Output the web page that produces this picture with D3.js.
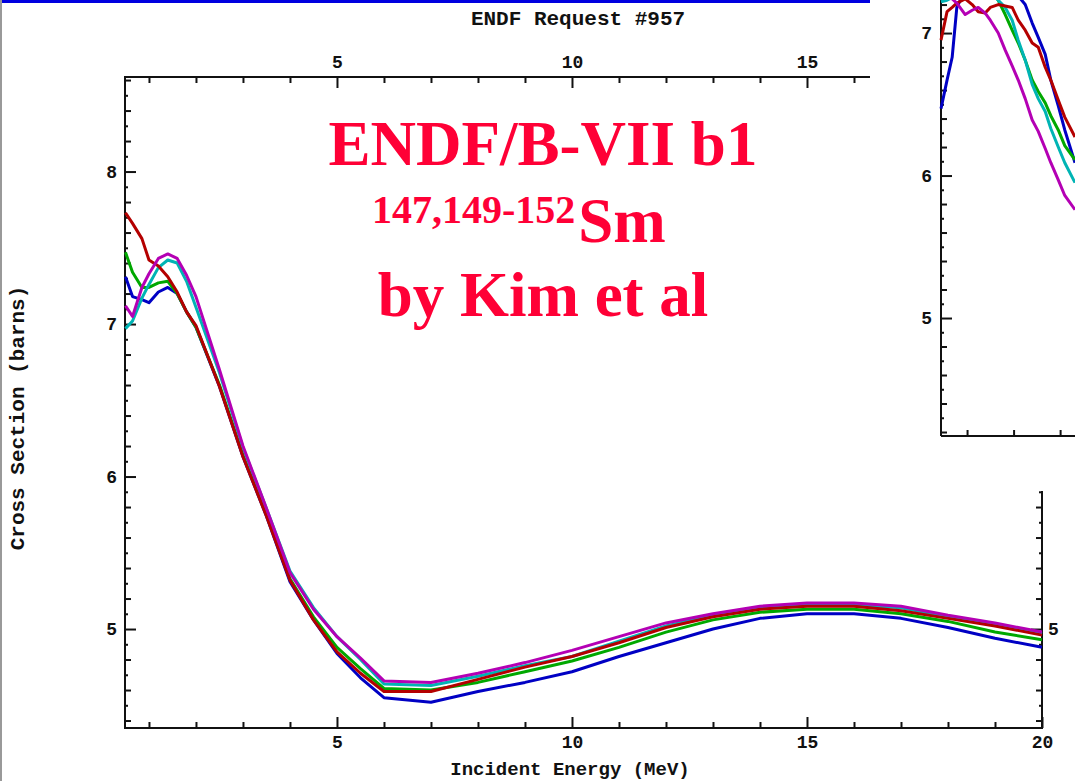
<!DOCTYPE html>
<html><head><meta charset="utf-8">
<script src="https://cdn.jsdelivr.net/npm/d3@7"></script>
<style>html,body{margin:0;padding:0;background:#fff;overflow:hidden}</style>
</head><body><svg id="c" width="1075" height="781"></svg>
<script>
// ---------- main chart data (MeV, barns) ----------
const energies = [0.5,0.65,0.85,1.0,1.2,1.4,1.6,1.8,2.0,2.5,3.0,3.5,4.0,4.5,5.0,5.5,6.0,7,8,9,10,11,12,13,14,15,16,17,18,19,20];
const sm147 = [7.31,7.18,7.16,7.14,7.21,7.24,7.20,7.08,6.98,6.59,6.13,5.74,5.31,5.06,4.84,4.68,4.55,4.52,4.59,4.65,4.72,4.82,4.91,5.00,5.07,5.10,5.10,5.07,5.01,4.94,4.88]; // blue
const sm149 = [7.47,7.34,7.24,7.24,7.27,7.28,7.20,7.08,6.98,6.60,6.14,5.75,5.33,5.08,4.88,4.74,4.61,4.60,4.65,4.72,4.79,4.88,4.98,5.06,5.11,5.13,5.13,5.10,5.05,4.98,4.93]; // green
const sm150 = [6.97,7.02,7.17,7.26,7.37,7.42,7.40,7.28,7.11,6.68,6.19,5.79,5.38,5.14,4.95,4.80,4.64,4.63,4.69,4.76,4.82,4.92,5.02,5.09,5.14,5.16,5.16,5.14,5.08,5.03,4.97]; // cyan
const sm151 = [7.73,7.66,7.56,7.42,7.38,7.31,7.21,7.08,6.99,6.59,6.13,5.74,5.32,5.06,4.85,4.71,4.59,4.59,4.67,4.75,4.82,4.91,5.01,5.08,5.13,5.15,5.15,5.12,5.07,5.02,4.96]; // red
const sm152 = [7.12,7.05,7.24,7.33,7.43,7.46,7.43,7.32,7.18,6.70,6.20,5.79,5.37,5.13,4.95,4.81,4.66,4.65,4.71,4.78,4.86,4.95,5.04,5.10,5.15,5.17,5.17,5.15,5.09,5.04,4.98]; // magenta

// ---------- inset data (zoomed low-energy view) ----------
const insetEnergies = [0.044,0.057,0.068,0.078,0.096,0.111,0.124,0.139,0.15,0.167,0.182,0.197,0.21,0.225,0.24,0.253,0.268,0.28,0.296,0.31,0.332];
const inBlue    = [6.47,6.67,6.83,7.18,7.30,7.35,7.38,7.40,7.40,7.38,7.35,7.30,7.26,7.20,7.07,6.97,6.85,6.67,6.49,6.32,6.09];
const inGreen   = [7.30,7.30,7.30,7.30,7.30,7.30,7.30,7.30,7.30,7.23,7.13,7.02,6.93,6.81,6.67,6.59,6.51,6.42,6.32,6.21,6.11];
const inCyan    = [7.22,7.23,7.25,7.28,7.30,7.30,7.30,7.30,7.30,7.23,7.18,7.09,6.95,6.81,6.64,6.54,6.45,6.33,6.20,6.09,5.95];
const inRed     = [6.95,7.15,7.18,7.21,7.24,7.20,7.15,7.14,7.18,7.20,7.19,7.18,7.09,7.02,6.93,6.90,6.76,6.67,6.53,6.41,6.27];
const inMagenta = [7.30,7.28,7.24,7.21,7.13,7.16,7.18,7.14,7.09,7.00,6.88,6.77,6.67,6.54,6.39,6.31,6.19,6.09,5.97,5.86,5.76];

// ---------- ticks / labels ----------
const xMajorTicks = [5,10,15,20];
const xMinorTicks = [1,2,3,4,6,7,8,9,11,12,13,14,16,17,18,19];
const yMajorTicks = [5,6,7,8];
const insetYMajor = [5,6,7];
const insetXTicks = [0.1,0.2,0.3];

const titleText = "ENDF Request #957";
const xLabel = "Incident Energy (MeV)";
const yLabel = "Cross Section (barns)";

const colors = {blue:"#0000c4", green:"#00a800", cyan:"#00b4b4", red:"#b40000", magenta:"#b400b4"};

const svg = d3.select("#c");
const W = 1075, H = 781;
svg.append("rect").attr("width",W).attr("height",H).attr("fill","#fff");

const L = 125, R = 1042, T = 77, B = 728;
const x = d3.scaleLinear().domain([0.49,20]).range([L,R]);
const y = d3.scaleLinear().domain([4.351,8.62]).range([B,T]);

const monoFont = "'Liberation Mono','DejaVu Sans Mono',monospace";

function styleAxis(g, size){
  g.selectAll("path.domain").remove();
  g.selectAll("line").attr("stroke","#111").attr("stroke-width",2);
  g.selectAll("text").attr("font-family",monoFont).attr("font-weight","bold")
    .attr("font-size",size||18).attr("fill","#111");
}

const step = (a,b,s)=>d3.range(Math.round(a/s), Math.round(b/s)+1).map(i=>+(i*s).toFixed(2));
const yTenths = step(4.4,8.6,0.1).filter(v=>Math.abs(v*5-Math.round(v*5))>1e-6);
const yFifths = step(4.4,8.6,0.2).filter(v=>Math.abs(v-Math.round(v))>1e-6);

// bottom axis
const gb = svg.append("g").attr("transform",`translate(0,${B})`);
gb.append("g").call(d3.axisBottom(x).tickValues(xMinorTicks).tickSizeInner(-6).tickSizeOuter(0).tickFormat("")).call(styleAxis);
gb.append("g").call(d3.axisBottom(x).tickValues(xMajorTicks).tickSizeInner(-11).tickSizeOuter(0).tickPadding(7).tickFormat(d3.format("d"))).call(styleAxis);
// top axis
const gt = svg.append("g").attr("transform",`translate(0,${T})`);
gt.append("g").call(d3.axisTop(x).tickValues(xMinorTicks).tickSizeInner(-6).tickSizeOuter(0).tickFormat("")).call(styleAxis);
gt.append("g").call(d3.axisTop(x).tickValues(xMajorTicks.filter(d=>d<20)).tickSizeInner(-11).tickSizeOuter(0).tickPadding(9).tickFormat(d3.format("d"))).call(styleAxis);
// left axis
const gl = svg.append("g").attr("transform",`translate(${L},0)`);
gl.append("g").call(d3.axisLeft(y).tickValues(yTenths).tickSizeInner(-3).tickSizeOuter(0).tickFormat("")).call(styleAxis);
gl.append("g").call(d3.axisLeft(y).tickValues(yFifths).tickSizeInner(-6).tickSizeOuter(0).tickFormat("")).call(styleAxis);
gl.append("g").call(d3.axisLeft(y).tickValues(yMajorTicks).tickSizeInner(-11).tickSizeOuter(0).tickPadding(8).tickFormat(d3.format("d"))).call(styleAxis);
// right axis
const gr = svg.append("g").attr("transform",`translate(${R},0)`);
gr.append("g").call(d3.axisRight(y).tickValues(yTenths).tickSizeInner(-3).tickSizeOuter(0).tickFormat("")).call(styleAxis);
gr.append("g").call(d3.axisRight(y).tickValues(yFifths).tickSizeInner(-6).tickSizeOuter(0).tickFormat("")).call(styleAxis);
gr.append("g").call(d3.axisRight(y).tickValues(yMajorTicks).tickSizeInner(-11).tickSizeOuter(0).tickPadding(6).tickFormat(d3.format("d"))).call(styleAxis);

// frame
svg.append("rect").attr("x",L).attr("y",T).attr("width",R-L).attr("height",B-T)
  .attr("fill","none").attr("stroke","#111").attr("stroke-width",2);

// curves
const mainSeries = [
  {v:sm147,c:colors.blue},{v:sm149,c:colors.green},{v:sm150,c:colors.cyan},
  {v:sm151,c:colors.red},{v:sm152,c:colors.magenta}];
const line = d3.line().x(d=>x(d[0])).y(d=>y(d[1]));
mainSeries.forEach(s=>{
  svg.append("path").datum(energies.map((e,i)=>[e,s.v[i]]))
    .attr("d",line).attr("fill","none").attr("stroke",s.c).attr("stroke-width",3)
    .attr("stroke-linejoin","round");
});

// titles
svg.append("text").attr("x",578).attr("y",25).attr("text-anchor","middle")
  .attr("font-family",monoFont).attr("font-weight","bold").attr("font-size",21).attr("fill","#111").text(titleText);
svg.append("text").attr("x",570).attr("y",775).attr("text-anchor","middle")
  .attr("font-family",monoFont).attr("font-weight","bold").attr("font-size",19).attr("fill","#111").text(xLabel);
svg.append("text").attr("transform","translate(24,418) rotate(-90)").attr("text-anchor","middle")
  .attr("font-family",monoFont).attr("font-weight","bold").attr("font-size",21).attr("fill","#111").text(yLabel);

// red annotation
const serif = "'Liberation Serif','Times New Roman',serif";
const red = "#ff0036";
svg.append("text").attr("x",543).attr("y",165).attr("text-anchor","middle")
  .attr("font-family",serif).attr("font-weight","bold").attr("font-size",63).attr("fill",red).text("ENDF/B-VII b1");
const t2 = svg.append("text").attr("x",372).attr("y",223)
  .attr("font-family",serif).attr("font-weight","bold").attr("fill",red);
t2.append("tspan").attr("font-size",40).text("147,149-152");
t2.append("tspan").attr("font-size",63).attr("dx",3).attr("dy",19).text("Sm");
svg.append("text").attr("x",543).attr("y",316).attr("text-anchor","middle")
  .attr("font-family",serif).attr("font-weight","bold").attr("font-size",63).attr("fill",red).text("by Kim et al");

// ---------- inset ----------
svg.append("rect").attr("x",870).attr("y",0).attr("width",W-870).attr("height",491).attr("fill","#fff");
const IL = 941, IB = 436;
const ix = d3.scaleLinear().domain([0.044,0.332]).range([IL,1075]);
const iy = d3.scaleLinear().domain([4.172,7.232]).range([IB,0]);
const iTenths = step(4.2,7.2,0.1).filter(v=>Math.abs(v*5-Math.round(v*5))>1e-6);
const iFifths = step(4.2,7.2,0.2).filter(v=>Math.abs(v-Math.round(v))>1e-6);
const gil = svg.append("g").attr("transform",`translate(${IL},0)`);
gil.append("g").call(d3.axisLeft(iy).tickValues(iTenths).tickSizeInner(-3).tickSizeOuter(0).tickFormat("")).call(styleAxis);
gil.append("g").call(d3.axisLeft(iy).tickValues(iFifths).tickSizeInner(-6).tickSizeOuter(0).tickFormat("")).call(styleAxis);
gil.append("g").call(d3.axisLeft(iy).tickValues(insetYMajor).tickSizeInner(-11).tickSizeOuter(0).tickPadding(9).tickFormat(d3.format("d"))).call(styleAxis);
const gib = svg.append("g").attr("transform",`translate(0,${IB})`);
gib.append("g").call(d3.axisBottom(ix).tickValues(insetXTicks).tickSizeInner(-6).tickSizeOuter(0).tickFormat("")).call(styleAxis);
svg.append("line").attr("x1",IL).attr("x2",IL).attr("y1",0).attr("y2",IB).attr("stroke","#111").attr("stroke-width",2);
svg.append("line").attr("x1",IL).attr("x2",W).attr("y1",IB).attr("y2",IB).attr("stroke","#111").attr("stroke-width",2);

const insetSeries = [
  {v:inBlue,c:colors.blue},{v:inGreen,c:colors.green},{v:inCyan,c:colors.cyan},
  {v:inRed,c:colors.red},{v:inMagenta,c:colors.magenta}];
const iline = d3.line().x(d=>ix(d[0])).y(d=>iy(d[1]));
insetSeries.forEach(s=>{
  svg.append("path").datum(insetEnergies.map((e,i)=>[e,s.v[i]]))
    .attr("d",iline).attr("fill","none").attr("stroke",s.c).attr("stroke-width",3)
    .attr("stroke-linejoin","round");
});

// page decorations: blue bar and left border
svg.append("rect").attr("x",0).attr("y",0).attr("width",870).attr("height",3).attr("fill","#0000e0");
svg.append("rect").attr("x",0).attr("y",0).attr("width",2).attr("height",H).attr("fill","#999");
</script></body></html>
